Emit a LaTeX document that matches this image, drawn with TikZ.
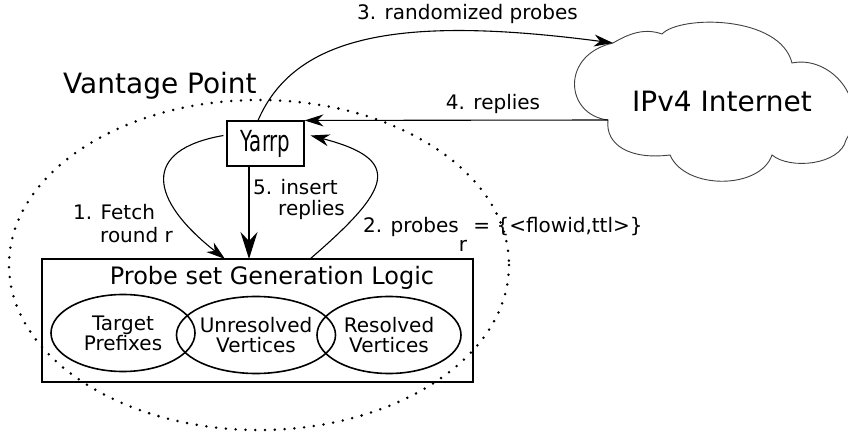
\documentclass[tikz,border=0pt]{standalone}
\usepackage{fontspec}
\setmainfont{DejaVu Sans}
\usetikzlibrary{arrows.meta,shapes.geometric}
\tikzset{
  lbl/.style={inner sep=0pt, font=\fontsize{20}{22}\selectfont},
  big/.style={inner sep=0pt, font=\fontsize{28}{28}\selectfont},
  arr/.style={line width=1.1pt, -{Stealth[length=19pt,width=12pt,inset=6pt]}},
  arrbig/.style={line width=1.3pt, -{Stealth[length=27pt,width=17pt,inset=9pt]}},
  ell/.style={ellipse, draw, line width=1.6pt, minimum width=144pt, minimum height=77pt,
    inner sep=0pt, align=center, font=\fontsize{20}{20}\selectfont},
  dotring/.style={line width=2.8pt, line cap=round, dash pattern=on 0pt off 9.8pt},
  cloudline/.style={fill=white, draw=black!75, line width=0.9pt},
}
\begin{document}
\begin{tikzpicture}[x=1pt,y=-1pt]
\useasboundingbox (0,0) rectangle (848,435);
% vantage point boundary
\draw[dotring] (259,265) ellipse [x radius=250, y radius=165];
\node[big, anchor=base west] (vp) at (63,94) {Vantage Point};
% cloud
\coordinate (c1) at (613,43);
\coordinate (c7) at (608,120);
\draw[cloudline] (c1) .. controls (630,33) and (645,28) .. (662,34)
  .. controls (680,15) and (780,15) .. (792,63)
  .. controls (830,55) and (870,100) .. (846,140)
  .. controls (840,165) and (790,170) .. (772,155)
  .. controls (760,190) and (685,190) .. (670,155)
  .. controls (630,160) and (605,145) .. (c7)
  .. controls (565,115) and (560,55) .. (c1) -- cycle;
\node[big, anchor=base] (inet) at (722,112) {IPv4 Internet};
% Yarrp
\node[draw, fill=white, line width=1.1pt, minimum width=77pt, minimum height=45pt, inner sep=0pt]
  (yarrp) at (265.5,143.5) {\fontsize{29}{29}\selectfont\scalebox{0.68}[1]{Yarrp}};
% probe set generation logic
\node[draw, line width=1.3pt, minimum width=431pt, minimum height=123pt, inner sep=0pt]
  (pgl) at (257.5,320.5) {};
\node[inner sep=0pt, anchor=base, font=\fontsize{24}{24}\selectfont] (title) at (272,285)
  {Probe set Generation Logic};
\node[ell] (tp) at (123,333) {Target\\Prefixes};
\node[ell] (uv) at (256,335) {Unresolved\\Vertices};
\node[ell] (rv) at (389,335) {Resolved\\Vertices};
% connector end points on the box top
\coordinate (f1) at (225,259);
\coordinate (f5) at (249,259);
\coordinate (f2) at (310,259);
% arrows
\draw[arr] ([xshift=-3pt,yshift=8pt]yarrp.west) .. controls (140,150) and (150,200) .. (f1);
\draw[arrbig] (yarrp.south -| f5) -- (f5);
\draw[arr] (f2) .. controls (390,190) and (405,160) .. ([xshift=6pt,yshift=8pt]yarrp.east);
\draw[arr] ([xshift=-7.5pt]yarrp.north) .. controls (295,35) and (400,15) .. (c1);
\draw[arr] (c7) -- (yarrp.north east);
% labels
\node[lbl, anchor=base west] (l1a) at (73,220) {1. Fetch};
\node[lbl, anchor=base west] (l1b) at (100,243) {round r};
\node[lbl, anchor=base west] (l5a) at (253,195) {5. insert};
\node[lbl, anchor=base west] (l5b) at (278,216) {replies};
\node[lbl, anchor=base west] (l2) at (363,233) {2. probes\raisebox{-19pt}{r} = \{<flowid,ttl>\}};
\node[lbl, anchor=base west] (l3) at (357,20) {3. randomized probes};
\node[lbl, anchor=base] (l4) at (493,110) {4. replies};
\end{tikzpicture}
\end{document}
